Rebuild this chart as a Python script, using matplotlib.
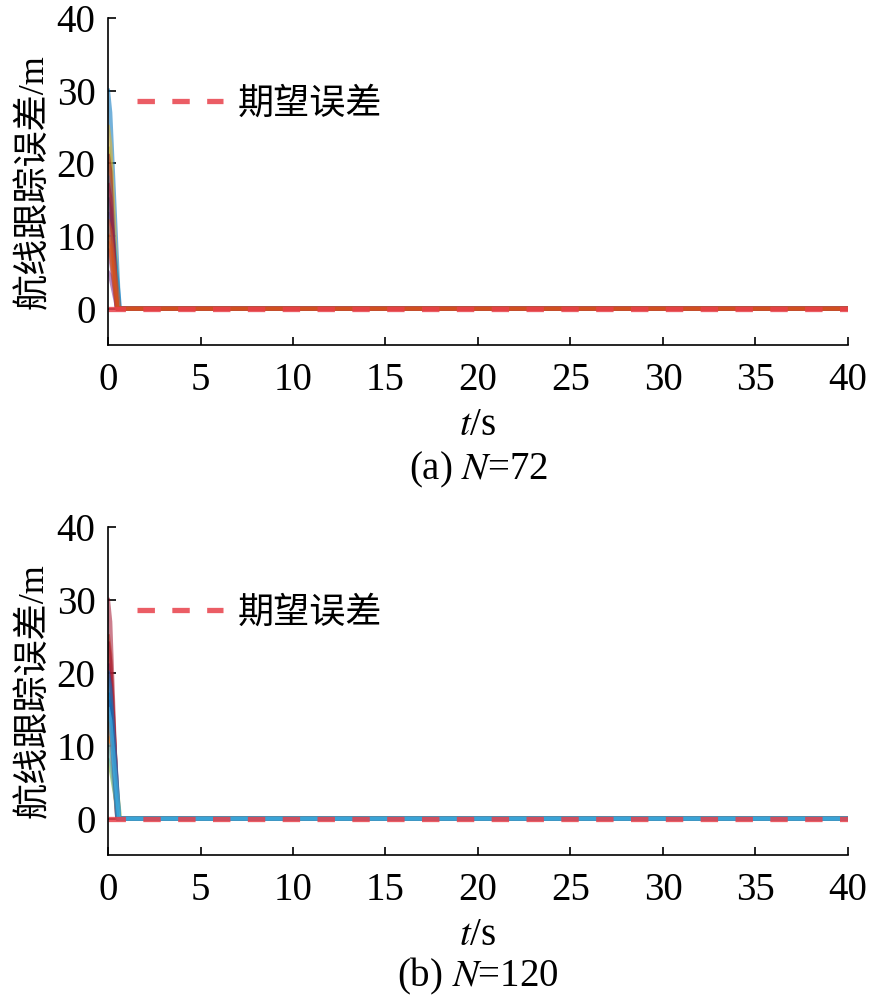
import numpy as np
import matplotlib.pyplot as plt

plt.rcParams['font.family'] = ['Liberation Serif', 'Noto Sans CJK SC']
plt.rcParams['mathtext.fontset'] = 'stix'

# matlab default colour order
colors = ['#0072BD', '#D95319', '#EDB120', '#7E2F8E', '#77AC30', '#4DBEEE', '#A2142F']

# initial tracking error (m) and time to reach zero (s) of each ship
e0_a = [30, 22, 25, 13, 18, 15, 21, 8, 11, 5, 17, 12, 9, 10]
tz_a = [0.6, 0.5, 0.55, 0.5, 0.6, 0.65, 0.45, 0.5, 0.55, 0.5, 0.5, 0.6, 0.5, 0.5]
col_a = [0, 4, 2, 3, 5, 0, 6, 3, 5, 3, 6, 1, 1, 1]

e0_b = [25, 21, 14, 30, 11, 19, 16, 24, 8, 13, 20, 10, 17, 15]
tz_b = [0.55, 0.6, 0.65, 0.5, 0.55, 0.6, 0.5, 0.55, 0.6, 0.5, 0.6, 0.55, 0.5, 0.6]
col_b = [1, 3, 4, 6, 2, 5, 3, 6, 4, 1, 0, 5, 0, 5]

t_end = 40
xticks = [0, 5, 10, 15, 20, 25, 30, 35, 40]
yticks = [0, 10, 20, 30, 40]

fig = plt.figure(figsize=(8.69, 9.99), dpi=100)
ax1 = fig.add_axes([0.1243, 0.6547, 0.8515, 0.3273])
ax2 = fig.add_axes([0.1243, 0.1441, 0.8515, 0.3283])


def draw(ax, e0, tz, cols, caption, ycap):
    for e, t, c in zip(e0, tz, cols):
        ax.plot([0, 0.12, t, t_end], [e, e * 0.9, 0, 0], color=colors[c], lw=3, alpha=0.55)
    ax.plot([0, t_end], [0, 0], color='#e8404a', lw=3.8, alpha=0.85,
            dashes=(3.3, 3.3), label='期望误差')
    ax.set_xlim(0, 40)
    ax.set_ylim(-5, 40)
    ax.set_xticks(xticks)
    ax.set_yticks(yticks)
    ax.spines['top'].set_visible(False)
    ax.spines['right'].set_visible(False)
    for s in ['left', 'bottom']:
        ax.spines[s].set_linewidth(1.2)
    ax.tick_params(direction='in', length=6, width=1.2, labelsize=28)
    ax.tick_params(axis='x', pad=12)
    ax.tick_params(axis='y', pad=9)
    ax.set_xlabel('$t$/s', fontsize=28, labelpad=6)
    ax.set_ylabel('航线跟踪误差/m', fontsize=26, labelpad=4)
    ax.legend(loc='upper left', bbox_to_anchor=(-0.005, 0.885), frameon=False,
              fontsize=26, handlelength=2.4, handletextpad=0.4)
    fig.text(0.55, ycap, caption, fontsize=28, ha='center', va='center')


draw(ax1, e0_a, tz_a, col_a, '(a) $N$=72', 1 - 470 / 999)
draw(ax2, e0_b, tz_b, col_b, '(b) $N$=120', 1 - 976 / 999)

fig.savefig('out.png', dpi=100)
